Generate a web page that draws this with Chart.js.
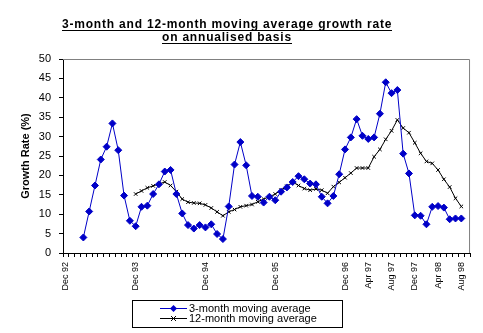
<!DOCTYPE html>
<html>
<head>
<meta charset="utf-8">
<title>Moving average growth rate</title>
<script src="https://cdn.jsdelivr.net/npm/chart.js@4.4.1/dist/chart.umd.min.js"></script>
<style>
    html, body { margin: 0; padding: 0; background: #ffffff; }
    #chart-box { width: 483px; height: 333px; }
</style>
</head>
<body>
<div id="chart-box"><canvas id="growthChart" width="483" height="333"></canvas></div>
<script>
// Monthly categories, Dec 92 .. Sep 98
const months = [
    'Dec 92',
    'Jan 93', 'Feb 93', 'Mar 93', 'Apr 93', 'May 93', 'Jun 93', 'Jul 93', 'Aug 93', 'Sep 93', 'Oct 93', 'Nov 93', 'Dec 93',
    'Jan 94', 'Feb 94', 'Mar 94', 'Apr 94', 'May 94', 'Jun 94', 'Jul 94', 'Aug 94', 'Sep 94', 'Oct 94', 'Nov 94', 'Dec 94',
    'Jan 95', 'Feb 95', 'Mar 95', 'Apr 95', 'May 95', 'Jun 95', 'Jul 95', 'Aug 95', 'Sep 95', 'Oct 95', 'Nov 95', 'Dec 95',
    'Jan 96', 'Feb 96', 'Mar 96', 'Apr 96', 'May 96', 'Jun 96', 'Jul 96', 'Aug 96', 'Sep 96', 'Oct 96', 'Nov 96', 'Dec 96',
    'Jan 97', 'Feb 97', 'Mar 97', 'Apr 97', 'May 97', 'Jun 97', 'Jul 97', 'Aug 97', 'Sep 97', 'Oct 97', 'Nov 97', 'Dec 97',
    'Jan 98', 'Feb 98', 'Mar 98', 'Apr 98', 'May 98', 'Jun 98', 'Jul 98', 'Aug 98', 'Sep 98'
];

// only these months get a label on the x axis
const labelledMonths = ['Dec 92', 'Dec 93', 'Dec 94', 'Dec 95', 'Dec 96', 'Apr 97', 'Aug 97', 'Dec 97', 'Apr 98', 'Aug 98'];

// 3-month moving average (%), starts Mar 93
const threeMonthAvg = [
    null, null, null, 4.0, 10.7, 17.4, 24.1, 27.4, 33.4, 26.5, 14.8, 8.3, 6.9,
    11.9, 12.2, 15.2, 17.7, 21.0, 21.4, 15.2, 10.2, 7.2, 6.3, 7.2, 6.6,
    7.4, 4.9, 3.6, 12.0, 22.8, 28.6, 22.6, 14.7, 14.5, 13.0, 14.5, 13.6,
    15.8, 16.9, 18.3, 19.8, 19.0, 17.9, 17.7, 14.5, 12.8, 14.7, 20.3, 26.7,
    29.8, 34.5, 30.2, 29.4, 29.8, 35.9, 44.0, 41.2, 42.0, 25.6, 20.5, 9.7,
    9.6, 7.4, 11.9, 12.1, 11.7, 8.7, 8.9, 8.9
];

// 12-month moving average (%), starts Dec 93
const twelveMonthAvg = [
    null, null, null, null, null, null, null, null, null, null, null, null, 15.2,
    16.0, 16.8, 17.3, 17.8, 18.3, 17.4, 15.8, 13.9, 13.1, 12.9, 12.8, 12.4,
    11.6, 10.6, 9.6, 10.6, 11.2, 11.9, 12.2, 12.5, 13.2, 13.9, 14.5, 15.2,
    16.2, 17.2, 18.3, 17.4, 16.6, 16.2, 16.5, 16.2, 15.4, 17.1, 18.2, 19.4,
    20.6, 21.9, 21.9, 21.9, 24.8, 26.7, 29.3, 31.5, 34.3, 32.2, 31.0, 28.4,
    25.7, 23.6, 23.1, 21.4, 19.0, 17.0, 14.1, 12.0
];

const seriesNames = ['3-month moving average', '12-month moving average'];
const titleLines = ['3-month and 12-month moving average growth rate', 'on annualised basis'];
const yAxisTitle = 'Growth Rate (%)';

const FONT = '"Liberation Sans", Arial, sans-serif';
const BLUE = '#0000c8';

// Excel style title (bold + underlined), plot frame and boxed legend
const excelLook = {
    id: 'excelLook',
    beforeDatasetsDraw(chart) {
        const { ctx, chartArea: a } = chart;
        ctx.save();
        ctx.strokeStyle = '#808080';
        ctx.lineWidth = 1;
        ctx.beginPath();
        ctx.moveTo(a.left, a.top + 0.5);
        ctx.lineTo(a.right - 0.5, a.top + 0.5);
        ctx.lineTo(a.right - 0.5, a.bottom);
        ctx.stroke();
        ctx.restore();
    },
    afterDraw(chart) {
        const ctx = chart.ctx;
        ctx.save();

        // title - the old bitmap font is wider, so spread the letters a bit
        ctx.fillStyle = '#000';
        ctx.strokeStyle = '#000';
        ctx.font = 'bold 12px ' + FONT;
        ctx.letterSpacing = '0.8px';
        ctx.textAlign = 'left';
        ctx.textBaseline = 'alphabetic';
        const cx = 227;
        [28, 41].forEach((y, i) => {
            const text = titleLines[i];
            const w = ctx.measureText(text).width;
            const x0 = Math.round(cx - w / 2);
            ctx.fillText(text, x0, y);
            ctx.fillRect(x0, y + 2, Math.round(w), 1);
        });
        ctx.letterSpacing = '0px';

        // legend box
        ctx.lineWidth = 1;
        ctx.strokeRect(132.5, 300.5, 210, 27);
        ctx.font = '11px ' + FONT;
        ctx.textAlign = 'left';
        ctx.textBaseline = 'middle';
        chart.data.datasets.forEach((ds, i) => {
            const y = 308.5 + i * 10;
            ctx.strokeStyle = ds.borderColor;
            ctx.beginPath();
            ctx.moveTo(160, y);
            ctx.lineTo(187, y);
            ctx.stroke();
            const mx = 173.5;
            if (ds.pointStyle === 'rectRot') {
                ctx.fillStyle = ds.pointBackgroundColor;
                ctx.beginPath();
                ctx.moveTo(mx, y - 3.5);
                ctx.lineTo(mx + 3.5, y);
                ctx.lineTo(mx, y + 3.5);
                ctx.lineTo(mx - 3.5, y);
                ctx.closePath();
                ctx.fill();
            } else {
                ctx.beginPath();
                ctx.moveTo(mx - 2.5, y - 2.5);
                ctx.lineTo(mx + 2.5, y + 2.5);
                ctx.moveTo(mx + 2.5, y - 2.5);
                ctx.lineTo(mx - 2.5, y + 2.5);
                ctx.stroke();
            }
            ctx.fillStyle = '#000';
            ctx.fillText(ds.label, 189, y);
        });
        ctx.restore();
    }
};

function renderGrowthChart() {
    const canvas = document.getElementById('growthChart');
    const ctx = canvas.getContext('2d');

    return new Chart(ctx, {
        type: 'line',
        data: {
            labels: months,
            datasets: [
                {
                    label: seriesNames[0],
                    data: threeMonthAvg,
                    borderColor: BLUE,
                    backgroundColor: BLUE,
                    pointBackgroundColor: BLUE,
                    pointBorderColor: BLUE,
                    pointStyle: 'rectRot',
                    pointRadius: 3.5,
                    pointBorderWidth: 1,
                    borderWidth: 1,
                    tension: 0
                },
                {
                    label: seriesNames[1],
                    data: twelveMonthAvg,
                    borderColor: '#000000',
                    backgroundColor: '#000000',
                    pointBorderColor: '#000000',
                    pointStyle: 'crossRot',
                    pointRadius: 2.5,
                    pointBorderWidth: 1,
                    borderWidth: 1,
                    tension: 0
                }
            ]
        },
        options: {
            responsive: false,
            animation: false,
            devicePixelRatio: 1,
            layout: {
                padding: { top: 59, left: 15, right: 10, bottom: 40 }
            },
            plugins: {
                legend: { display: false },
                title: { display: false },
                tooltip: { enabled: false }
            },
            scales: {
                x: {
                    type: 'category',
                    offset: true,
                    afterFit(scale) { scale.height = 40; },
                    grid: {
                        offset: true,
                        drawOnChartArea: false,
                        color: '#000',
                        tickLength: 4
                    },
                    border: { color: '#000', width: 1 },
                    ticks: {
                        autoSkip: false,
                        minRotation: 90,
                        maxRotation: 90,
                        padding: 5,
                        color: '#000',
                        font: { family: FONT, size: 9 },
                        callback(value) {
                            const name = this.getLabelForValue(value);
                            return labelledMonths.includes(name) ? name : '';
                        }
                    }
                },
                y: {
                    min: 0,
                    max: 50,
                    afterFit(scale) { scale.width = 48; },
                    grid: {
                        drawOnChartArea: false,
                        color: '#000',
                        tickLength: 4
                    },
                    border: { color: '#000', width: 1 },
                    ticks: {
                        stepSize: 5,
                        padding: 8,
                        color: '#000',
                        font: { family: FONT, size: 11 }
                    },
                    title: {
                        display: true,
                        text: yAxisTitle,
                        color: '#000',
                        padding: 4,
                        font: { family: FONT, size: 11, weight: 'bold' }
                    }
                }
            }
        },
        plugins: [excelLook]
    });
}

document.addEventListener('DOMContentLoaded', () => {
    renderGrowthChart();
});
</script>
</body>
</html>
